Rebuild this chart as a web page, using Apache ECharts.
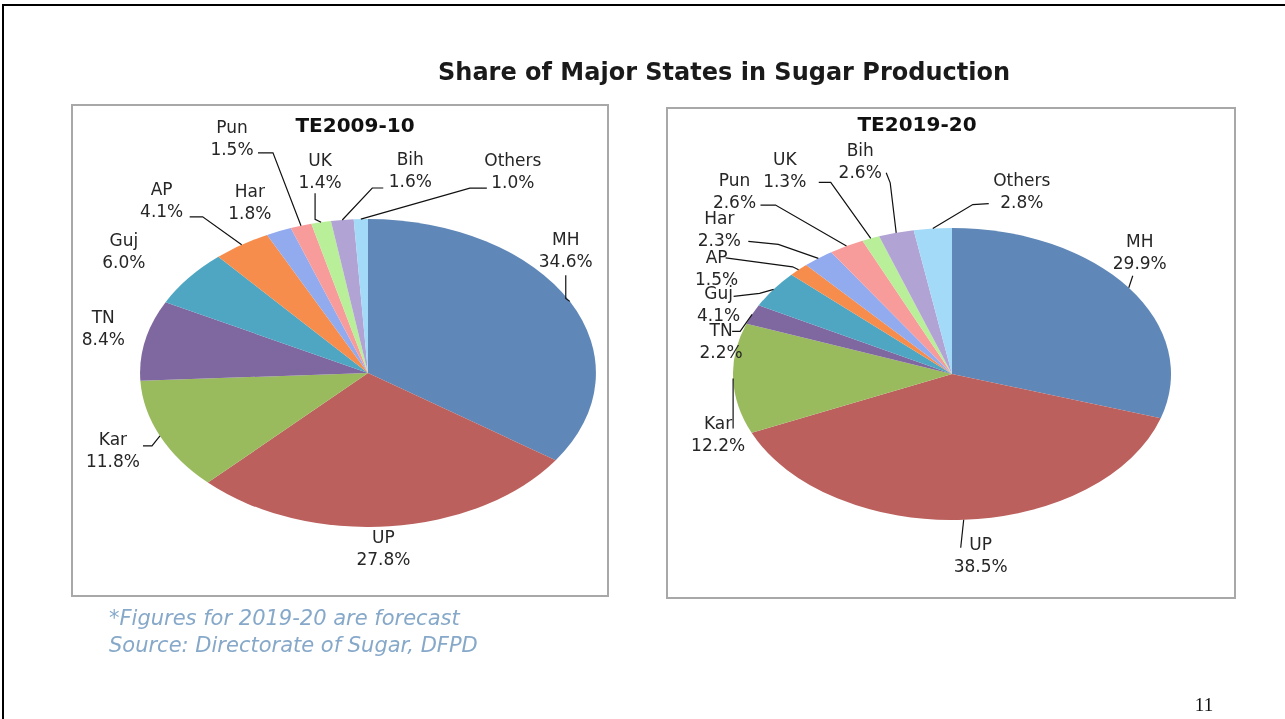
<!DOCTYPE html>
<html>
<head>
<meta charset="utf-8">
<script src="https://cdn.jsdelivr.net/npm/echarts@6/dist/echarts.min.js"></script>
<style>
html,body{margin:0;padding:0;background:#fff;}
#page{position:relative;width:1285px;height:719px;overflow:hidden;background:#fff;}
#frame{position:absolute;left:2px;top:4px;width:1300px;height:730px;border-left:2px solid #000;border-top:2px solid #000;}
.fill{position:absolute;z-index:1;}
#main{position:absolute;left:0;top:0;width:1285px;height:719px;z-index:2;}
</style>
</head>
<body>
<div id="page">
  <div id="frame"></div>
  <div id="fillA" class="fill"></div>
  <div id="fillB" class="fill"></div>
  <div id="main"></div>
</div>
<script>
// ---- data ----
const categories = ['MH','UP','Kar','TN','Guj','AP','Har','Pun','UK','Bih','Others'];
const share2009 = [34.6, 27.8, 11.8, 8.4, 6.0, 4.1, 1.8, 1.5, 1.4, 1.6, 1.0];
const share2019 = [29.9, 38.5, 12.2, 2.2, 4.1, 1.5, 2.3, 2.6, 1.3, 2.6, 2.8];
const pieTitles = ['TE2009-10', 'TE2019-20'];
const mainTitle = 'Share of Major States in Sugar Production';
const notes = ['*Figures for 2019-20 are forecast', 'Source: Directorate of Sugar, DFPD'];
const pageNo = '11';

// ---- styles ----
const colors = ['#5F87B7','#BB605D','#9ABA5E','#7F67A0','#4EA6C2','#F78D4C',
                '#92AAEE','#F89B9B','#B9EF98','#B2A3D5','#A3DAF7'];
const pies = [
  {id:'fillA', cx:368, cy:373, r:154, k:1.48, values:share2009},
  {id:'fillB', cx:952, cy:374, r:146, k:1.50, values:share2019}
];
// label placement (offsets from each slice's outer edge point): t = text centre, l = leader line bends
const labelCfg = [
  {
    MH:{t:[-4,-50], l:[[-4,-3],[-4,-26]]},
    UP:{t:[-6,23], l:[]},
    Kar:{t:[-47,16], l:[[-8,10],[-17,10]]},
    TN:{t:[-42,-11], l:[]},
    Guj:{t:[-65,-25], l:[]},
    AP:{t:[-80,-43], l:[[-39,-28],[-52,-28]]},
    Har:{t:[-29,-28], l:[]},
    Pun:{t:[-69,-86], l:[[-28,-73],[-43,-73]]},
    UK:{t:[-1,-50], l:[[-6,-3],[-6,-29]]},
    Bih:{t:[68,-48], l:[[30,-32],[41,-32]]},
    Others:{t:[152,-46], l:[[109,-31],[126,-31]]}
  },
  {
    MH:{t:[11,-34], l:[[4,-12]]},
    UP:{t:[17,37], l:[[-3,28]]},
    Kar:{t:[-15,57], l:[[0,8],[0,50]]},
    TN:{t:[-31,28], l:[[-12,17],[-20,17]]},
    Guj:{t:[-55,16], l:[[-14,4],[-40,7]]},
    AP:{t:[-82,0], l:[[-6,-3],[-73,-12]]},
    Har:{t:[-99,-28], l:[[-40,-14],[-70,-17]]},
    Pun:{t:[-112,-53], l:[[-71,-41],[-86,-41]]},
    UK:{t:[-86,-67], l:[[-40,-56],[-52,-56]]},
    Bih:{t:[-36,-70], l:[[-6,-50],[-10,-60]]},
    Others:{t:[89,-36], l:[[40,-24],[56,-25]]}
  }
];

function toData(values){
  return categories.map((c,i)=>({name:c, value:values[i], itemStyle:{color:colors[i]}}));
}

// filled (horizontally stretched) pies
pies.forEach(p=>{
  const el = document.getElementById(p.id);
  const s = 2*p.r + 8;
  el.style.width = s+'px'; el.style.height = s+'px';
  el.style.left = (p.cx - s/2)+'px'; el.style.top = (p.cy - s/2)+'px';
  el.style.transform = 'scaleX('+p.k+')';
  el.style.transformOrigin = '50% 50%';
  const ch = echarts.init(el, null, {renderer:'svg'});
  ch.setOption({
    animation:false,
    series:[{type:'pie', center:['50%','50%'], radius:[0,p.r], startAngle:90, clockwise:true,
      silent:true, label:{show:false}, labelLine:{show:false},
      itemStyle:{borderWidth:0}, data:toData(p.values)}]
  });
});

function layoutFor(pi){
  const p = pies[pi];
  return function(prm){
    const c = labelCfg[pi][categories[prm.dataIndex]];
    const e0 = prm.labelLinePoints ? prm.labelLinePoints[0] : [prm.labelRect.x, prm.labelRect.y];
    const ex = p.cx + (e0[0]-p.cx)*p.k, ey = e0[1];
    const pts = [[ex,ey]].concat(c.l.map(o=>[ex+o[0], ey+o[1]]));
    while (pts.length < 3) pts.push(pts[pts.length-1].slice());
    return {x: ex + c.t[0], y: ey + c.t[1], align:'center', verticalAlign:'middle', labelLinePoints: pts};
  };
}

const labelFont = {fontFamily:'DejaVu Sans', fontSize:17, lineHeight:22, color:'#262626'};

const main = echarts.init(document.getElementById('main'));
main.setOption({
  animation:false,
  backgroundColor:'transparent',
  title:{text:mainTitle, left:719, top:57, textAlign:'center',
    textStyle:{fontFamily:'DejaVu Sans', fontWeight:'bold', fontSize:24, color:'#1a1a1a'}},
  graphic:[
    {type:'rect', shape:{x:72, y:105, width:536, height:491}, style:{fill:'none', stroke:'#A8A8A8', lineWidth:2}},
    {type:'rect', shape:{x:667, y:108, width:568, height:490}, style:{fill:'none', stroke:'#A8A8A8', lineWidth:2}},
    {type:'text', x:355, y:127, style:{text:pieTitles[0], align:'center', verticalAlign:'middle',
      fontFamily:'DejaVu Sans', fontWeight:'bold', fontSize:20, fill:'#111'}},
    {type:'text', x:917, y:126, style:{text:pieTitles[1], align:'center', verticalAlign:'middle',
      fontFamily:'DejaVu Sans', fontWeight:'bold', fontSize:20, fill:'#111'}},
    {type:'text', x:109, y:620, style:{text:notes[0], verticalAlign:'middle',
      fontFamily:'DejaVu Sans', fontStyle:'italic', fontSize:21, fill:'#86A8C9'}},
    {type:'text', x:109, y:647, style:{text:notes[1], verticalAlign:'middle',
      fontFamily:'DejaVu Sans', fontStyle:'italic', fontSize:21, fill:'#86A8C9'}},
    {type:'text', x:1204, y:706, style:{text:pageNo, align:'center', verticalAlign:'middle',
      fontFamily:'Liberation Serif', fontSize:19, fill:'#111'}}
  ],
  series: pies.map((p,pi)=>({
    type:'pie', center:[p.cx,p.cy], radius:[0,p.r], startAngle:90, clockwise:true, silent:true,
    avoidLabelOverlap:false,
    itemStyle:{color:'rgba(0,0,0,0)', borderWidth:0},
    label:Object.assign({show:true, position:'outside',
      formatter:(d)=>d.name+'\n'+d.value.toFixed(1)+'%'}, labelFont),
    labelLine:{show:true, length:10, length2:6, lineStyle:{color:'#111', width:1.2}},
    labelLayout: layoutFor(pi),
    data: categories.map((c,i)=>({name:c, value:p.values[i]}))
  }))
});
</script>
</body>
</html>
